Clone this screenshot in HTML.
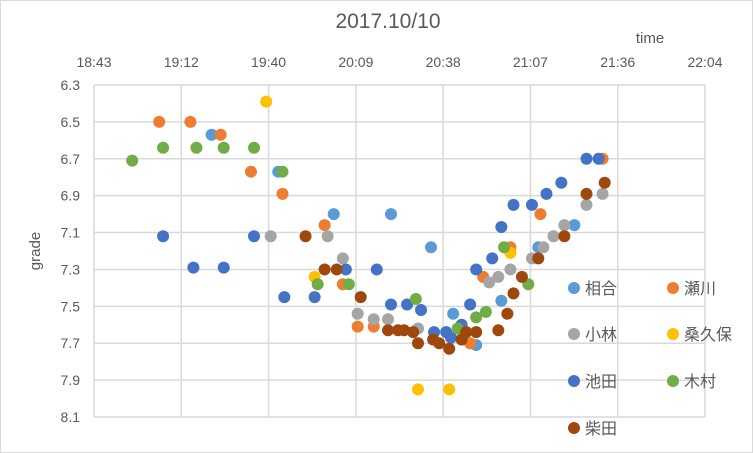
<!DOCTYPE html>
<html><head><meta charset="utf-8">
<style>
html,body{margin:0;padding:0;background:#fff;}
svg{display:block;font-family:"Liberation Sans","Noto Sans CJK JP",sans-serif;}
</style></head>
<body>
<svg id="chart" width="753" height="453" viewBox="0 0 753 453">
<rect x="0.5" y="0.5" width="752" height="452" fill="#fff" stroke="#d9d9d9"/>
<text x="388" y="28" text-anchor="middle" font-size="21" fill="#595959">2017.10/10</text>
<text x="650" y="43" text-anchor="middle" font-size="15" fill="#595959">time</text>
<text x="0" y="0" transform="translate(40,251) rotate(-90)" text-anchor="middle" font-size="15" fill="#595959">grade</text>
<g id="grid"></g>
<g id="ticks"></g>
<g id="marks"></g>
<g id="legend"></g>
</svg>
<script>
const xTickLabels = ["18:43","19:12","19:40","20:09","20:38","21:07","21:36","22:04"];
const yTickLabels = ["6.3","6.5","6.7","6.9","7.1","7.3","7.5","7.7","7.9","8.1"];
const seriesNames = ["相合","瀬川","小林","桑久保","池田","木村","柴田"];
const seriesColors = ["#5B9BD5","#ED7D31","#A5A5A5","#FFC000","#4472C4","#70AD47","#9E480E"];
// x values = minutes since midnight
const aiaiX = [1162,1184,1202.3,1221.2,1234.4,1241.7,1249.3,1257.6,1269.8,1281.7];
const aiaiY = [6.57,6.77,7.00,7.00,7.18,7.54,7.71,7.47,7.18,7.06];
const segawaX = [1144.7,1155,1165,1175,1185.4,1199.3,1205.3,1210.2,1215.5,1247.3,1251.6,1260.6,1270.5,1291];
const segawaY = [6.50,6.50,6.57,6.77,6.89,7.06,7.38,7.61,7.61,7.70,7.34,7.18,7.00,6.70];
const kobayashiX = [1181.5,1200.3,1205.3,1210.2,1215.5,1220.2,1230.1,1253.6,1256.6,1260.6,1267.7,1271.5,1274.8,1278.4,1285.7,1291];
const kobayashiY = [7.12,7.12,7.24,7.54,7.57,7.57,7.62,7.37,7.34,7.30,7.24,7.18,7.12,7.06,6.95,6.89];
const kuwakuboX = [1180,1196,1230.1,1240.4,1260.6];
const kuwakuboY = [6.39,7.34,7.95,7.95,7.21];
const ikedaX = [1146,1156,1166,1176,1186,1196,1206.3,1216.5,1221.2,1226.5,1231.1,1235.4,1239.4,1241,1244.5,1247.3,1249.3,1254.6,1257.6,1261.6,1267.7,1272.5,1277.4,1285.7,1289.7];
const ikedaY = [7.12,7.29,7.29,7.12,7.45,7.45,7.30,7.30,7.49,7.49,7.52,7.64,7.64,7.67,7.60,7.49,7.30,7.24,7.07,6.95,6.95,6.89,6.83,6.70,6.70];
const kimuraX = [1135.8,1146,1157,1166,1176,1185.4,1197,1207.3,1229.4,1243.2,1249.3,1252.5,1258.5,1266.5];
const kimuraY = [6.71,6.64,6.64,6.64,6.64,6.77,7.38,7.38,7.46,7.62,7.56,7.53,7.18,7.38];
const shibataX = [1193,1199.3,1203.3,1211.2,1220.2,1223.5,1225.5,1228.5,1230.1,1235.1,1237.1,1240.4,1244.5,1246,1249.3,1256.6,1259.6,1261.6,1264.4,1269.8,1278.4,1285.7,1291.7];
const shibataY = [7.12,7.30,7.30,7.45,7.63,7.63,7.63,7.64,7.70,7.68,7.70,7.73,7.68,7.64,7.64,7.63,7.54,7.43,7.34,7.24,7.12,6.89,6.83];

const allX = [aiaiX,segawaX,kobayashiX,kuwakuboX,ikedaX,kimuraX,shibataX];
const allY = [aiaiY,segawaY,kobayashiY,kuwakuboY,ikedaY,kimuraY,shibataY];
const slugs = ["aiai","segawa","kobayashi","kuwakubo","ikeda","kimura","shibata"];

const NS="http://www.w3.org/2000/svg";
const X0=94,X1=705,Y0=85,Y1=417;
const tMin=1123.2,tMax=1324.8,gMin=6.3,gMax=8.1;
function xs(t){return X0+(t-tMin)/(tMax-tMin)*(X1-X0);}
function ys(g){return Y0+(g-gMin)/(gMax-gMin)*(Y1-Y0);}
function mk(tag,attrs,parent){const e=document.createElementNS(NS,tag);for(const k in attrs)e.setAttribute(k,attrs[k]);parent.appendChild(e);return e;}

const grid=document.getElementById('grid'),ticks=document.getElementById('ticks'),marks=document.getElementById('marks'),legend=document.getElementById('legend');
xTickLabels.forEach((lab,i)=>{
  const x=X0+i*(X1-X0)/(xTickLabels.length-1);
  const l=mk('line',{x1:x,x2:x,y1:Y0,y2:Y1,stroke:'#d9d9d9','stroke-width':1.5},grid);
  
  
  const t=mk('text',{x:x,y:67,'text-anchor':'middle','font-size':14,fill:'#595959'},ticks);
  t.textContent=lab;
  
  
});
yTickLabels.forEach((lab)=>{
  const y=ys(parseFloat(lab));
  const l=mk('line',{x1:X0,x2:X1,y1:y,y2:y,stroke:'#d9d9d9','stroke-width':1.5},grid);
  
  
  const t=mk('text',{x:80,y:y+5,'text-anchor':'end','font-size':14,fill:'#595959'},ticks);
  t.textContent=lab;
  
  
});
allX.forEach((xa,s)=>{
  const g=mk('g',{},marks);
  
  
  xa.forEach((t,i)=>{
    const c=mk('circle',{cx:xs(t),cy:ys(allY[s][i]),r:6,fill:seriesColors[s]},g);
    
    
  });
});
const legPos=[[574,288],[673,288],[574,334],[673,334],[574,381],[673,381],[574,428]];
seriesNames.forEach((n,i)=>{
  const [lx,ly]=legPos[i];
  const g=mk('g',{},legend);
  
  
  mk('circle',{cx:lx,cy:ly,r:6,fill:seriesColors[i]},g);
  const t=mk('text',{x:lx+11,y:ly+6,'font-size':16,fill:'#595959'},g);
  t.textContent=n;
});
</script>
</body></html>
